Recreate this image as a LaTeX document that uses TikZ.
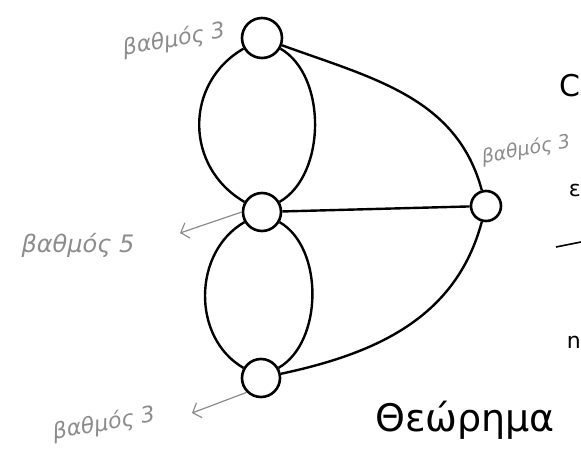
\documentclass[tikz,border=0pt]{standalone}
\usepackage{fontspec}
\setmainfont{DejaVu Sans}
\usepackage{tikz}
\usetikzlibrary{arrows.meta}

\begin{document}
\begin{tikzpicture}[
		x=1pt, y=-1pt,
		vertex/.style={draw, circle, line width=2.6pt, inner sep=0pt, minimum size=38pt},
		edge/.style={line width=2.4pt},
		deg/.style={font=\fontsize{22}{24}\selectfont\itshape, text=black!45},
		degarr/.style={-{Straight Barb[length=7pt, width=16pt]}, line width=1.2pt, draw=black!45},
		frag/.style={anchor=east, inner sep=0pt}
	]
	\useasboundingbox (0,0) rectangle (581,450);
	% vertices
	\node[vertex, minimum size=40pt] (a) at (262,38) {};
	\node[vertex] (b) at (262,212) {};
	\node[vertex, minimum size=30pt] (c) at (486,206) {};
	\node[vertex] (d) at (261,378) {};
	% edges
	\draw[edge] (a) to[out=210, in=150, looseness=1.15] (b);
	\draw[edge] (a) to[out=-30, in=30, looseness=0.9] (b);
	\draw[edge] (b) to[out=210, in=150, looseness=1.05] (d);
	\draw[edge] (b) to[out=-30, in=30, looseness=0.9] (d);
	\draw[edge] (a) to[out=-20, in=105] (c);
	\draw[edge] (b) -- (c);
	\draw[edge] (d) to[out=12, in=-105] (c);
	% degree labels
	\node[deg, rotate=10] (da) at (174,40) {βαθμός 3};
	\node[deg, rotate=10, font=\fontsize{19}{21}\selectfont\itshape] (dc) at (526,150) {βαθμός 3};
	\node[deg, font=\fontsize{24}{26}\selectfont\itshape] (db) at (78,245) {βαθμός 5};
	\node[deg, rotate=10] (dd) at (104,424) {βαθμός 3};
	\coordinate (tb) at (180,233);
	\coordinate (td) at (192,413);
	\draw[degarr] (b.west) -- (tb);
	\draw[degarr] (d.south west) -- (td);
	\node[font=\fontsize{38}{42}\selectfont] (thm) at (465,420) {Θεώρημα};
	% text cut off at the right edge
	\node[frag, font=\fontsize{30}{32}\selectfont] (f1) at (581,86) {C};
	\node[frag, font=\fontsize{22}{24}\selectfont] (f2) at (581,190) {ε};
	\coordinate (l1) at (556,247);
	\coordinate (l2) at (581,242);
	\draw[line width=1.6pt] (l1) -- (l2);
	\node[frag, font=\fontsize{22}{24}\selectfont] (f3) at (581,342) {n};
\end{tikzpicture}
\end{document}
